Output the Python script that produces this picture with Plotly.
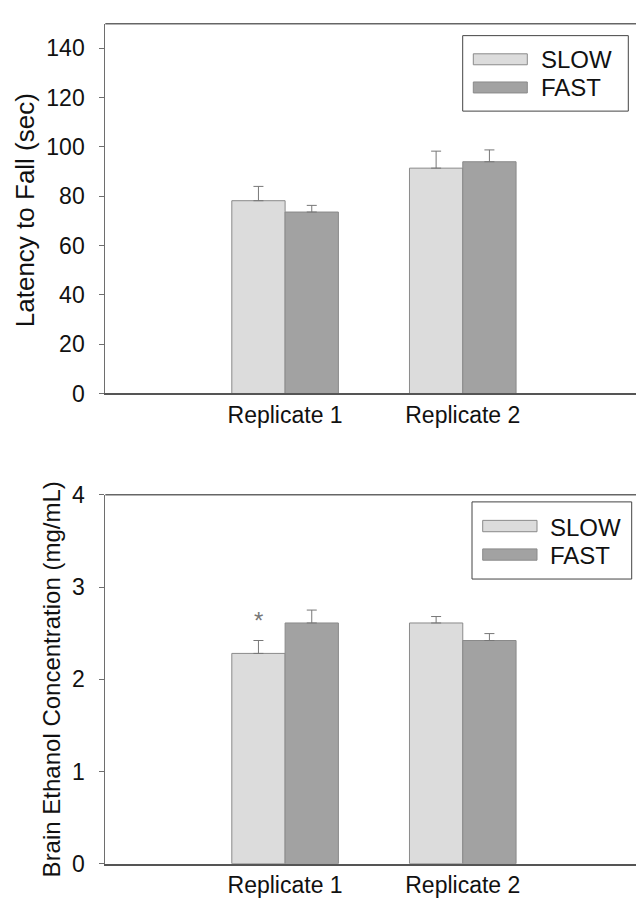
import plotly.graph_objects as go

# ---------------- data ----------------
categories = ["Replicate 1", "Replicate 2"]
series_names = ["SLOW", "FAST"]

latency_slow = [78.2, 91.4]
latency_slow_err = [5.8, 6.9]
latency_fast = [73.6, 94.0]
latency_fast_err = [2.7, 4.8]

ethanol_slow = [2.28, 2.61]
ethanol_slow_err = [0.14, 0.07]
ethanol_fast = [2.61, 2.42]
ethanol_fast_err = [0.14, 0.075]

latency_ticks = [0, 20, 40, 60, 80, 100, 120, 140]
ethanol_ticks = [0, 1, 2, 3, 4]

# ---------------- style ----------------
W, H = 636, 909
FONT = "Liberation Sans, Arial, sans-serif"
SLOW_COL = "#dcdcdc"
FAST_COL = "#a2a2a2"
EDGE_COL = "#8a8a8a"
AX_COL = "#6e6e6e"
ERR_COL = "#777777"

def px_x(px):
    return px / W

def px_y(py):
    return 1 - py / H

xpos = [1, 2]
fig = go.Figure()

def add_bars(slow, slow_err, fast, fast_err, xa, ya):
    for name, vals, errs, col in [("SLOW", slow, slow_err, SLOW_COL),
                                  ("FAST", fast, fast_err, FAST_COL)]:
        fig.add_trace(go.Bar(
            x=xpos, y=vals, name=name, showlegend=False,
            marker=dict(color=col, line=dict(color=EDGE_COL, width=1)),
            error_y=dict(type="data", symmetric=False, array=errs,
                         arrayminus=[0] * len(errs), color=ERR_COL,
                         thickness=1, width=5),
            xaxis=xa, yaxis=ya,
        ))

add_bars(latency_slow, latency_slow_err, latency_fast, latency_fast_err, "x", "y")
add_bars(ethanol_slow, ethanol_slow_err, ethanol_fast, ethanol_fast_err, "x2", "y2")

x_dom = [px_x(105.3), 1.0]
top_dom = [px_y(391.7), px_y(11)]
bot_dom = [px_y(875.7), px_y(496)]
xrange_ = [-0.012, 2.975]

xcommon = dict(range=xrange_, tickvals=xpos, ticktext=categories,
               showgrid=False, zeroline=False, showline=True,
               linecolor="#555555", linewidth=2, ticks="",
               tickfont=dict(family=FONT, size=23, color="#111"),
               domain=x_dom, fixedrange=True)
ycommon = dict(showgrid=False, zeroline=False, showline=True,
               linecolor=AX_COL, linewidth=1, ticks="outside", ticklen=5,
               tickcolor=AX_COL, tickwidth=1,
               tickfont=dict(family=FONT, size=23, color="#111"),
               ticklabelstandoff=10, fixedrange=True)

fig.update_layout(
    width=W, height=H,
    margin=dict(l=0, r=0, t=0, b=0),
    paper_bgcolor="white", plot_bgcolor="white",
    barmode="group", bargap=0.4, bargroupgap=0,
    xaxis=dict(**xcommon, anchor="y"),
    yaxis=dict(**ycommon, range=[0, 150], tickvals=latency_ticks,
               domain=top_dom, anchor="x"),
    xaxis2=dict(**xcommon, anchor="y2"),
    yaxis2=dict(**ycommon, range=[0, 4], tickvals=ethanol_ticks,
                domain=bot_dom, anchor="x2"),
    showlegend=False,
)

shapes = []
annotations = []

# top frame lines
for dom in (top_dom, bot_dom):
    shapes.append(dict(type="line", xref="paper", yref="paper",
                       x0=x_dom[0], x1=1, y0=dom[1], y1=dom[1],
                       line=dict(color="#666666", width=1.5)))

# y-axis titles
annotations.append(dict(text="Latency to Fall (sec)", textangle=-90,
                        xref="paper", yref="paper", x=px_x(25), y=px_y(203),
                        xanchor="center", yanchor="middle", showarrow=False,
                        font=dict(family=FONT, size=26, color="#111")))
annotations.append(dict(text="Brain Ethanol Concentration (mg/mL)", textangle=-90,
                        xref="paper", yref="paper", x=px_x(51), y=px_y(686),
                        xanchor="center", yanchor="middle", showarrow=False,
                        font=dict(family=FONT, size=24, color="#111")))

# custom legends
def legend(box, sw_x, sw_rows, txt_x, txt_rows):
    bx0, by0, bx1, by1 = box
    shapes.append(dict(type="rect", xref="paper", yref="paper",
                       x0=px_x(bx0), x1=px_x(bx1), y0=px_y(by1), y1=px_y(by0),
                       line=dict(color="#444444", width=1), fillcolor="white"))
    for (y0, y1), col in zip(sw_rows, [SLOW_COL, FAST_COL]):
        shapes.append(dict(type="rect", xref="paper", yref="paper",
                           x0=px_x(sw_x[0]), x1=px_x(sw_x[1]),
                           y0=px_y(y1), y1=px_y(y0),
                           line=dict(color=EDGE_COL, width=1), fillcolor=col))
    for yc, name in zip(txt_rows, series_names):
        annotations.append(dict(text=name, xref="paper", yref="paper",
                                x=px_x(txt_x), y=px_y(yc), xanchor="left",
                                yanchor="middle", showarrow=False,
                                font=dict(family=FONT, size=24, color="#111")))

legend((462.7, 23.3, 628.3, 101), (473.3, 527.3), [(42, 53.3), (71, 82.3)],
       539, [48, 77])
legend((472, 503.3, 631.7, 582.7), (482.7, 537), [(522.3, 534), (551.7, 563.3)],
       548, [530, 558])

# significance asterisk above SLOW replicate 1 (ethanol panel)
annotations.append(dict(text="*", xref="x2", yref="y2",
                        x=xpos[0] - 0.15, y=ethanol_slow[0] + ethanol_slow_err[0],
                        yshift=20, showarrow=False, xanchor="center",
                        font=dict(family=FONT, size=24, color="#777")))

fig.update_layout(shapes=shapes, annotations=annotations)
fig.write_html("out.html")
